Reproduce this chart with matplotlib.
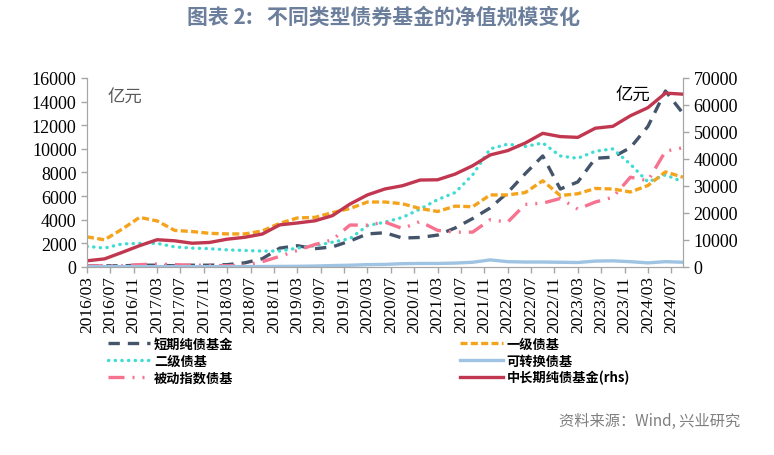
import numpy as np
import matplotlib
matplotlib.use("Agg")
import matplotlib.pyplot as plt

serif = "Liberation Serif"
cjk = "Noto Sans CJK SC"

plt.rcParams['font.family'] = [serif, cjk]
plt.rcParams['axes.unicode_minus'] = False

# quarterly points, 2016/03 .. 2024/09 (months since 2016/03)
months = np.arange(0, 103, 3)

short_pure = [100, 100, 100, 150, 150, 100, 150, 150, 200, 350, 700, 1600, 1800, 1550, 1700, 2200, 2800, 2900,
              2450, 2500, 2700, 3300, 4100, 5000, 6300, 7900, 9400, 6600, 7200, 9200, 9300, 10100, 11900, 14900, 13000]
primary = [2550, 2300, 3200, 4200, 3900, 3100, 3000, 2850, 2800, 2800, 3050, 3700, 4150, 4200, 4600, 4950, 5500, 5500,
           5350, 4950, 4700, 5150, 5100, 6100, 6100, 6300, 7300, 6050, 6200, 6650, 6600, 6350, 6900, 8050, 7600]
secondary = [1750, 1600, 1950, 2000, 2000, 1700, 1600, 1550, 1450, 1400, 1350, 1350, 1600, 1800, 2100, 2400, 3500, 3800,
             4200, 4900, 5700, 6300, 7800, 10000, 10400, 10200, 10500, 9400, 9200, 9800, 10000, 8700, 7200, 7800, 7200]
convertible = [30, 30, 30, 30, 30, 30, 30, 30, 30, 30, 40, 50, 60, 80, 120, 150, 200, 220,
               280, 300, 300, 330, 400, 600, 450, 420, 420, 400, 380, 500, 520, 450, 350, 450, 400]
index_bond = [100, 100, 100, 200, 250, 200, 150, 150, 100, 150, 450, 900, 1400, 1900, 2300, 3550, 3550, 3800,
              3250, 3850, 3100, 2950, 2950, 4000, 3800, 5300, 5400, 5800, 4900, 5500, 5900, 7600, 7300, 9800, 10100]
mid_long = [2300, 3000, 5400, 7900, 10100, 9700, 8800, 9100, 10300, 11000, 12200, 15600, 16300, 17100, 19000, 23300,
            26700, 28900, 30100, 32200, 32300, 34400, 37500, 41500, 43100, 45900, 49500, 48300, 48000, 51400, 52100,
            56000, 59000, 64400, 64000]

tick_labels = []
for yr in range(2016, 2025):
    for m in (3, 7, 11):
        tick_labels.append(f"{yr}/{m:02d}")
tick_labels = tick_labels[:26]

fig = plt.figure(figsize=(7.74, 4.56), dpi=100)
ax = fig.add_axes([0.1124, 0.4123, 0.77, 0.4145])
ax2 = ax.twinx()

lw = 2.4
l1, = ax.plot(months, short_pure, color="#44546a", lw=lw, linestyle=(0, (3.4, 2.4)), label="短期纯债基金")
l3, = ax.plot(months, secondary, color="#3fdcd4", lw=lw, linestyle=(0, (0.1, 1.9)), dash_capstyle="round",
              label="二级债基")
l5, = ax.plot(months, index_bond, color="#f7728e", lw=lw, linestyle=(0, (4.8, 2.4, 0.6, 2.4, 0.6, 2.4)),
              label="被动指数债基")
l2, = ax.plot(months, primary, color="#f4a31c", lw=lw, linestyle=(0, (2.1, 1.0)), label="一级债基")
l4, = ax.plot(months, convertible, color="#9fc3e3", lw=lw, label="可转换债基")
l6, = ax2.plot(months, mid_long, color="#c1374f", lw=lw, label="中长期纯债基金(rhs)")

ax.set_ylim(0, 16000)
ax2.set_ylim(0, 70000)
ax.set_yticks(range(0, 16001, 2000))
ax2.set_yticks(range(0, 70001, 10000))
ax.set_xlim(0, 102)
ax.set_xticks(range(0, 101, 4))
ax.set_xticklabels(tick_labels, rotation=90)

for a in (ax, ax2):
    a.spines["top"].set_visible(False)
    for s in ("left", "right", "bottom"):
        a.spines[s].set_color("#a6a6a6")
    a.tick_params(colors="#a6a6a6", labelcolor="black", length=4, width=1, labelsize=13)
ax.tick_params(axis="x", labelsize=12.5, pad=2)
for lab in ax.get_xticklabels() + ax.get_yticklabels() + ax2.get_yticklabels():
    lab.set_family(serif)

ax.text(0.035, 0.9, "亿元", transform=ax.transAxes, fontsize=12.5, color="#595959",
        family=[cjk], va="center")
ax.text(0.945, 0.91, "亿元", transform=ax.transAxes, fontsize=12.5, color="black",
        family=[cjk], va="center", ha="right")

fig.text(0.495, 0.962, "图表 2:   不同类型债券基金的净值规模变化", ha="center", va="center", fontsize=15,
         fontweight="bold", color="#6b7f9c", family=[cjk, "DejaVu Sans"])

handles = [l1, l3, l5, l2, l4, l6]
leg = fig.legend(handles, [h.get_label() for h in handles], ncol=2, loc="upper left",
                 bbox_to_anchor=(0.124, 0.285), frameon=False, handlelength=3.2,
                 columnspacing=17.2, labelspacing=0.2, handletextpad=0.3,
                 prop={"family": [cjk], "size": 9.5, "weight": "bold"})

fig.text(0.957, 0.075, "资料来源：Wind, 兴业研究", ha="right", va="center", fontsize=11, color="#7f7f7f",
         family=[cjk])

fig.savefig("out.png", dpi=100)
